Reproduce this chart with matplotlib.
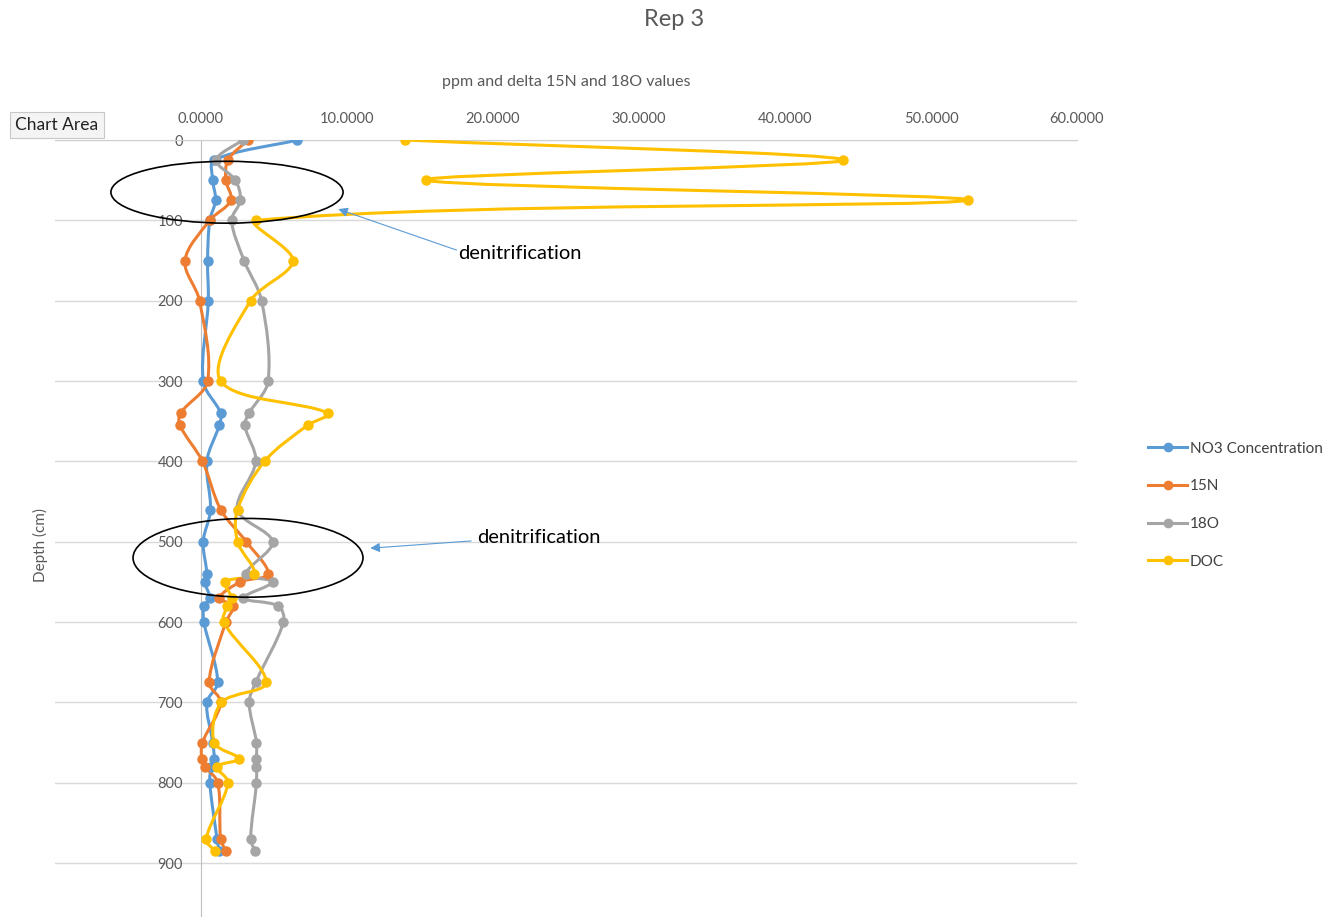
import numpy as np
import matplotlib
matplotlib.use('Agg')
import matplotlib.pyplot as plt
from matplotlib.path import Path
from matplotlib.patches import PathPatch, Ellipse
from matplotlib.lines import Line2D
from matplotlib.ticker import FormatStrFormatter

plt.rcParams['font.family'] = ['Lato', 'DejaVu Sans']

# profundidade das amostras (cm)
depth = [0, 25, 50, 75, 100, 150, 200, 300, 340, 355, 400, 460, 500, 540,
         550, 570, 580, 600, 675, 700, 750, 770, 780, 800, 870, 885]

no3 = [6.6, 0.9, 0.8, 1.0, 0.6, 0.45, 0.5, 0.15, 1.35, 1.25, 0.4, 0.65, 0.15,
       0.4, 0.25, 0.6, 0.2, 0.2, 1.15, 0.4, 0.8, 0.9, 0.7, 0.6, 1.1, 1.25]
n15 = [3.2, 1.85, 1.7, 2.05, 0.6, -1.1, -0.1, 0.45, -1.4, -1.45, 0.1, 1.35,
       3.1, 4.6, 2.7, 1.25, 2.2, 1.7, 0.55, 1.35, 0.1, 0.05, 0.3, 1.15, 1.35, 1.7]
o18 = [2.85, 1.05, 2.35, 2.7, 2.1, 2.95, 4.15, 4.6, 3.3, 3.0, 3.75, 2.5, 4.9,
       3.1, 4.9, 2.9, 5.3, 5.65, 3.75, 3.3, 3.8, 3.8, 3.8, 3.8, 3.4, 3.7]
doc = [14.0, 44.0, 15.4, 52.5, 3.8, 6.3, 3.4, 1.35, 8.7, 7.3, 4.35, 2.5, 2.5,
       3.65, 1.65, 2.1, 1.8, 1.55, 4.45, 1.4, 0.9, 2.6, 1.1, 1.85, 0.35, 0.95]

series = [('NO3 Concentration', no3, '#5B9BD5'),
          ('15N', n15, '#ED7D31'),
          ('18O', o18, '#A5A5A5'),
          ('DOC', doc, '#FFC000')]

x_ticks = [-10, 0, 10, 20, 30, 40, 50, 60]
y_ticks = [0, 100, 200, 300, 400, 500, 600, 700, 800, 900]

cinza = '#595959'


def linha_suave(ax, xs, ys):
    # curva de Bezier pelos pontos (linha suavizada estilo Excel)
    P = ax.transData.transform(np.column_stack([xs, ys]))
    n = len(P)
    verts = [P[0]]
    codes = [Path.MOVETO]
    for i in range(n - 1):
        p0 = P[i - 1] if i > 0 else P[i]
        p1, p2 = P[i], P[i + 1]
        p3 = P[i + 2] if i + 2 < n else P[i + 1]
        d01 = np.hypot(*(p1 - p0))
        d12 = np.hypot(*(p2 - p1))
        d23 = np.hypot(*(p3 - p2))
        c1 = p1 + (p2 - p0) * d12 / (3 * (d01 + d12)) if d01 + d12 > 0 else p1
        c2 = p2 - (p3 - p1) * d12 / (3 * (d12 + d23)) if d12 + d23 > 0 else p2
        verts += [c1, c2, p2]
        codes += [Path.CURVE4] * 3
    verts = ax.transData.inverted().transform(np.array(verts))
    return Path(verts, codes)


fig = plt.figure(figsize=(13.44, 9.17), dpi=100)
ax = fig.add_axes([55 / 1344, 0, (1077 - 55) / 1344, 1 - 140 / 917])
ax.set_xlim(-10, 60)
ax.set_ylim(967, 0)

ax.set_xticks(x_ticks)
ax.set_yticks(y_ticks)
ax.xaxis.tick_top()
ax.xaxis.set_major_formatter(FormatStrFormatter('%.4f'))
ax.tick_params(axis='x', length=0, pad=10, labelsize=10.5, labelcolor=cinza)
ax.tick_params(axis='y', length=0, pad=13, labelsize=10.5, labelcolor=cinza)
ax.grid(axis='y', color='#d9d9d9', lw=1)
ax.set_axisbelow(True)
for s in ['right', 'bottom']:
    ax.spines[s].set_visible(False)
ax.spines['top'].set_color('#cfcfcf')
ax.spines['left'].set_position(('data', 0))
ax.spines['left'].set_color('#bfbfbf')

handles = []
for nome, vals, cor in series:
    ax.add_patch(PathPatch(linha_suave(ax, vals, depth), fill=False,
                           edgecolor=cor, lw=2.2, zorder=3))
    ax.plot(vals, depth, 'o', color=cor, ms=6.5, zorder=4)
    handles.append(Line2D([], [], color=cor, lw=2.2, marker='o', ms=6, label=nome))

# zonas de desnitrificacao
ax.add_patch(Ellipse((1.78, 65), 15.9, 77, fill=False, ec='black', lw=1.2, zorder=5))
ax.add_patch(Ellipse((3.22, 520), 15.75, 98, fill=False, ec='black', lw=1.2, zorder=5))
ax.annotate('', xy=(9.4, 86), xytext=(17.5, 137),
            arrowprops=dict(arrowstyle='-|>', color='#5B9BD5', lw=0.8,
                            mutation_scale=14, shrinkA=0, shrinkB=0))
ax.annotate('', xy=(11.6, 508), xytext=(18.5, 499),
            arrowprops=dict(arrowstyle='-|>', color='#5B9BD5', lw=0.8,
                            mutation_scale=14, shrinkA=0, shrinkB=0))
ax.text(17.6, 141, 'denitrification', fontsize=14.5, va='center', ha='left')
ax.text(18.9, 495, 'denitrification', fontsize=14.5, va='center', ha='left')

fig.text(674 / 1344, 1 - 19 / 917, 'Rep 3', fontsize=17, color=cinza,
         ha='center', va='center')
fig.text(566 / 1344, 1 - 82 / 917, 'ppm and delta 15N and 18O values',
         fontsize=11.5, color=cinza, ha='center', va='center')
fig.text(40 / 1344, 1 - 545 / 917, 'Depth (cm)', fontsize=11, color=cinza,
         rotation=90, ha='center', va='center')

# etiqueta flutuante sobre o rotulo -10
fig.text(57 / 1344, 1 - 125 / 917, 'Chart Area', fontsize=12.5, color='#222222',
         ha='center', va='center', zorder=10,
         bbox=dict(boxstyle='square,pad=0.3', fc='#f4f4f4', ec='#c8c8c8', lw=0.8))

fig.legend(handles=handles, loc='upper left',
           bbox_to_anchor=(1140 / 1344, 1 - 434 / 917), frameon=False,
           fontsize=11, labelcolor='#404040', handlelength=2.6, handletextpad=0.15,
           labelspacing=1.55, borderpad=0)

fig.savefig('out.png', dpi=100)
